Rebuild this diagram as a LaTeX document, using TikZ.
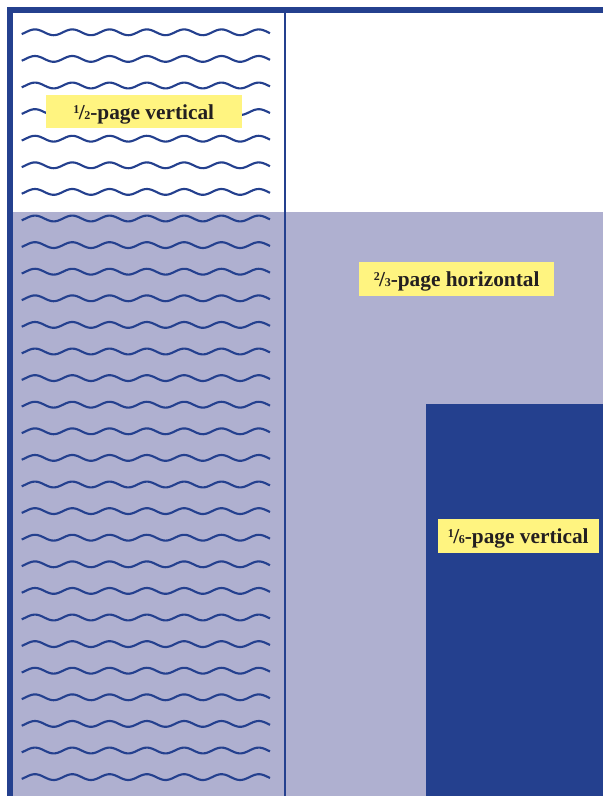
\documentclass[tikz,border=0pt]{standalone}
\usepackage{fontspec}
\setmainfont{Liberation Serif}
\definecolor{navy}{RGB}{36,64,142}
\definecolor{lilac}{RGB}{175,176,208}
\definecolor{labelyellow}{RGB}{255,244,128}
\definecolor{ink}{RGB}{35,31,32}
\newcommand\pgfrac[2]{\raisebox{4.3pt}{\fontsize{9}{9}\selectfont #1}\kern-0.5pt/\kern-0.3pt{\fontsize{9}{9}\selectfont #2}}
\begin{document}
\begin{tikzpicture}[x=0.75pt,y=-0.75pt,
  labelbox/.style={fill=labelyellow, text=ink, font=\fontsize{16}{19}\selectfont\bfseries, inner sep=0pt, text height=18.3pt},
  wave/.style={draw=navy, line width=1.6pt},
  frameline/.style={draw=navy, line width=4pt, line join=miter},
  divider/.style={draw=navy, line width=1.9pt}]
\useasboundingbox (0,0) rectangle (603,796);
\begin{scope}
\clip (0,0) rectangle (603,796);
\fill[lilac] (10,212) rectangle (610,800);
\fill[navy] (426,404) rectangle (610,800);
\foreach \k in {0,...,28} {
  \draw[wave] plot[domain=21.7:270, samples=150, smooth] (\x, {32.3+26.6*\k - 2.9*sin(9.6515*(\x-25.67))});
}
\draw[divider] (285,10) -- (285,800);
\draw[frameline] (10,800) -- (10,10) -- (610,10);
\end{scope}
\node[labelbox, minimum width=146.8pt, text depth=6.7pt] (half) at (143.8,111.7) {\pgfrac12-page vertical};
\node[labelbox, minimum width=146.5pt, text depth=7.2pt] (twothirds) at (456.7,278.7) {\pgfrac23-page horizontal};
\node[labelbox, minimum width=121pt, text depth=7pt] (sixth) at (518.3,535.8) {\pgfrac16-page vertical};
\end{tikzpicture}
\end{document}
